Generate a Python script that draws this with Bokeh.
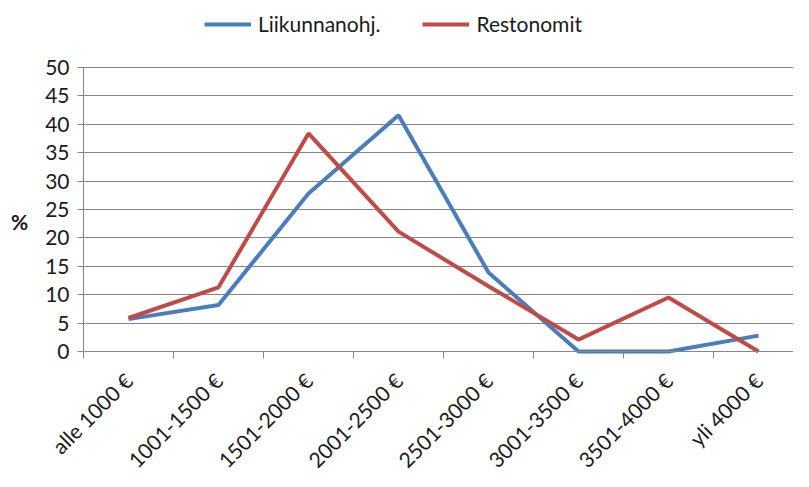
import numpy as np
from math import pi
from bokeh.plotting import figure
from bokeh.models import (Range1d, FixedTicker, Legend, LegendItem, Label)
from bokeh.embed import file_html
from bokeh.resources import INLINE

categories = ["alle 1000 €", "1001-1500 €", "1501-2000 €", "2001-2500 €",
              "2501-3000 €", "3001-3500 €", "3501-4000 €", "yli 4000 €"]
liikunnanohj = [5.7, 8.2, 27.8, 41.6, 13.9, 0.0, 0.0, 2.8]
restonomit = [5.9, 11.3, 38.4, 21.1, 11.5, 2.1, 9.5, 0.0]
y_ticks = list(range(0, 55, 5))
series_names = ["Liikunnanohj.", "Restonomit"]
y_title = "%"

FONT = "Lato"
TXT = "#1a1a1a"
GRID = "#868686"
BLUE = "#4A7EBB"
RED = "#BE4B48"

n = len(categories)
xc = np.arange(n) + 0.5

# the frame covers the whole figure; both axes are pinned inside it
W, H = 793, 471
LEFT, TOP, BOTTOM = 83, 67, 120
PX_X = 90.0            # pixels per category
PX_Y = 284 / 50.0      # pixels per percent
x_end = (W - LEFT) / PX_X
x_start = -LEFT / PX_X
y_top = 50 + TOP / PX_Y
y_bottom = -BOTTOM / PX_Y

p = figure(width=W, height=H, frame_width=W, frame_height=H,
           min_border_left=0, min_border_right=0, min_border_top=0,
           min_border_bottom=0,
           x_range=Range1d(x_start, x_end), y_range=Range1d(y_bottom, y_top),
           output_backend="svg", toolbar_location=None)
p.outline_line_color = None
p.background_fill_color = "white"
p.border_fill_color = "white"

r1 = p.line(xc, liikunnanohj, line_color=BLUE, line_width=4)
r2 = p.line(xc, restonomit, line_color=RED, line_width=4)

# x axis pinned at y = 0
p.xaxis.fixed_location = 0
p.xaxis.bounds = (0, x_end)
p.xaxis.ticker = FixedTicker(ticks=list(xc), minor_ticks=list(range(n + 1)))
p.xaxis.major_label_overrides = {float(x): c for x, c in zip(xc, categories)}
p.xaxis.major_label_orientation = pi / 4
p.xaxis.major_tick_out = 0
p.xaxis.major_tick_in = 0
p.xaxis.minor_tick_out = 7
p.xaxis.minor_tick_in = 0
p.xaxis.minor_tick_line_color = GRID
p.xaxis.axis_line_color = GRID
p.xaxis.major_label_text_font = FONT
p.xaxis.major_label_text_font_size = "21px"
p.xaxis.major_label_text_color = TXT
p.xaxis.major_label_standoff = 18
p.xgrid.grid_line_color = None

# y axis pinned at x = 0
p.yaxis.fixed_location = 0
p.yaxis.bounds = (0, 50)
p.yaxis.ticker = FixedTicker(ticks=y_ticks)
p.yaxis.minor_tick_line_color = None
p.yaxis.major_tick_out = 6
p.yaxis.major_tick_in = 0
p.yaxis.major_tick_line_color = GRID
p.yaxis.axis_line_color = GRID
p.yaxis.major_label_text_font = FONT
p.yaxis.major_label_text_font_size = "21px"
p.yaxis.major_label_text_color = TXT
p.yaxis.major_label_standoff = 8
p.ygrid.grid_line_color = GRID
p.ygrid.grid_line_width = 1.2
p.ygrid.bounds = (0, 50)
p.ygrid.cross_bounds = (0, x_end)

p.add_layout(Label(x=0, y=25, x_offset=-64, y_offset=-12, text=y_title,
                   text_font=FONT, text_font_style="bold",
                   text_font_size="21px", text_color=TXT,
                   text_align="center", text_baseline="middle"))

legend = Legend(items=[LegendItem(label=series_names[0], renderers=[r1]),
                       LegendItem(label=series_names[1], renderers=[r2])],
                orientation="horizontal", location=(204, H - 36),
                label_text_font=FONT, label_text_font_size="21px",
                label_text_color=TXT, glyph_width=47, glyph_height=20,
                label_standoff=7, spacing=42, padding=0, margin=0,
                border_line_color=None, background_fill_alpha=0)
p.add_layout(legend, "center")

open("out.html", "w").write(file_html(p, INLINE))
